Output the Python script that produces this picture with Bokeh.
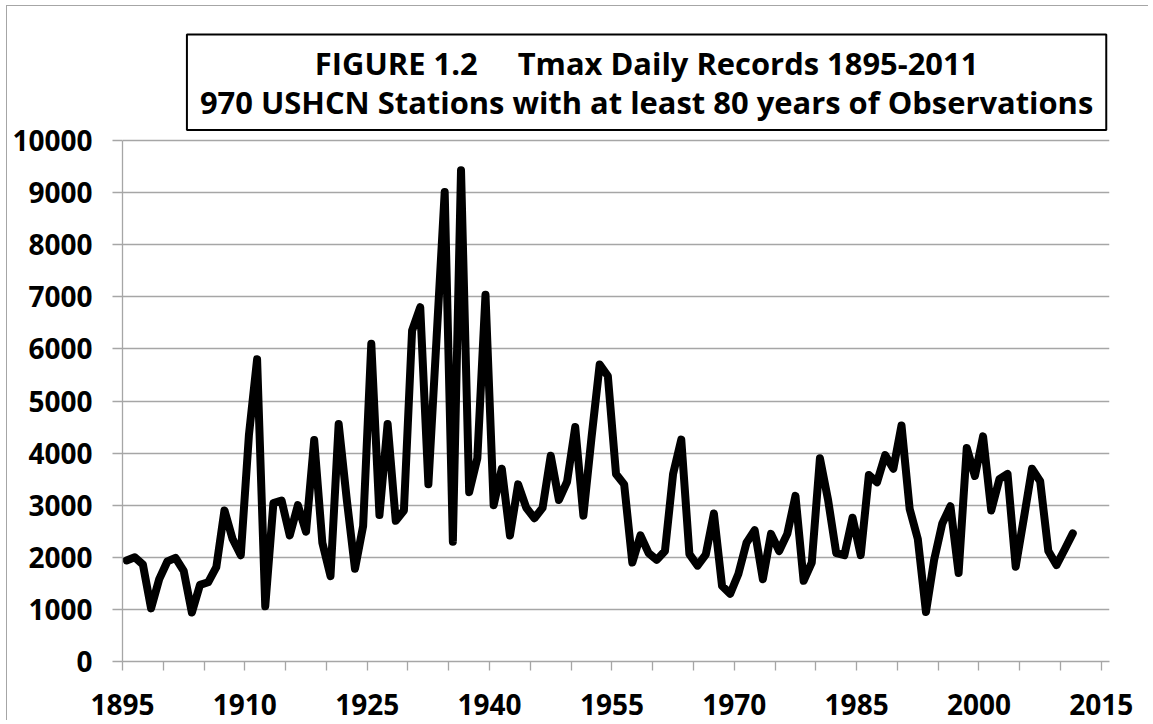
from bokeh.plotting import figure
from bokeh.models import Range1d, FixedTicker, Label
from bokeh.embed import file_html
from bokeh.resources import INLINE

# ---- data ----
years = list(range(1895, 2012))
records = [
    1940, 2000, 1860, 1020, 1580, 1920, 1990, 1740, 940, 1470,   # 1895-1904
    1520, 1810, 2900, 2350, 2040, 4350, 5800, 1060, 3040, 3090,  # 1905-1914
    2420, 3000, 2490, 4250, 2280, 1640, 4560, 3100, 1780, 2600,  # 1915-1924
    6100, 2810, 4560, 2700, 2900, 6350, 6800, 3400, 6200, 9010,  # 1925-1934
    2300, 9430, 3250, 3900, 7040, 3000, 3700, 2420, 3400, 2950,  # 1935-1944
    2750, 2950, 3950, 3100, 3450, 4500, 2800, 4300, 5700, 5480,  # 1945-1954
    3600, 3400, 1900, 2420, 2080, 1950, 2120, 3600, 4260, 2060,  # 1955-1964
    1840, 2050, 2840, 1450, 1300, 1680, 2280, 2520, 1580, 2450,  # 1965-1974
    2120, 2450, 3180, 1550, 1900, 3900, 3100, 2080, 2040, 2760,  # 1975-1984
    2040, 3580, 3440, 3960, 3700, 4530, 2930, 2350, 950, 1950,   # 1985-1994
    2650, 2980, 1700, 4100, 3560, 4320, 2900, 3500, 3600, 1820,  # 1995-2004
    2750, 3700, 3460, 2120, 1850, 2150, 2460,                    # 2005-2011
]
y_ticks = list(range(0, 10001, 1000))
x_tick_labels = ["1895", "1910", "1925", "1940", "1955", "1970", "1985", "2000", "2015"]
title_lines = [
    "FIGURE 1.2 \u00a0\u00a0\u00a0\u00a0Tmax Daily Records 1895-2011",
    "970 USHCN Stations with at least 80 years of Observations",
]

GRID = "#a6a6a6"
FONT = "Open Sans"
Y_MAX = y_ticks[-1]
FRAME_H = 655          # frame reaches the top of the canvas so the title box fits inside
PLOT_H = 521           # pixel height of the 0..10000 value span

p = figure(
    frame_width=987, frame_height=FRAME_H,
    min_border_left=115, min_border_right=40,
    min_border_top=0, min_border_bottom=60,
    x_range=Range1d(years[0] - 0.5, 2015.5),
    y_range=Range1d(0, Y_MAX * FRAME_H / PLOT_H),
    output_backend="svg", toolbar_location=None,
    margin=(6, 0, 0, 7),
)
p.outline_line_color = None
p.background_fill_color = "white"
p.border_fill_color = "white"

# category boundaries every 5 years (Excel "between tick marks" axis)
boundaries = [years[0] - 0.5 + 5 * k for k in range(25)]
overrides = {b: "" for b in boundaries}
for lbl in x_tick_labels:
    overrides[float(lbl) - 0.5] = lbl

xa = p.xaxis[0]
xa.ticker = FixedTicker(ticks=boundaries, minor_ticks=[])
xa.major_label_overrides = overrides
xa.major_tick_out = 9
xa.major_tick_in = 0
xa.major_label_standoff = 23

ya = p.yaxis[0]
ya.ticker = FixedTicker(ticks=y_ticks, minor_ticks=[])
ya.bounds = (0, Y_MAX)
ya.major_tick_out = 10
ya.major_tick_in = 0
ya.major_label_standoff = 20

for ax in (xa, ya):
    ax.axis_line_color = GRID
    ax.axis_line_width = 1.3
    ax.major_tick_line_color = GRID
    ax.major_tick_line_width = 1.3
    ax.minor_tick_line_color = None
    ax.major_label_text_font = FONT
    ax.major_label_text_font_style = "bold"
    ax.major_label_text_font_size = "28px"
    ax.major_label_text_color = "black"

p.xgrid.visible = False
p.ygrid.ticker = FixedTicker(ticks=y_ticks)
p.ygrid.grid_line_color = GRID
p.ygrid.grid_line_width = 1.3

p.line(years, records, line_color="black", line_width=8,
       line_join="round", line_cap="round")

title = Label(
    x=1958.75, y=11117, x_units="data", y_units="data",
    text="\n".join(title_lines),
    text_align="center", text_baseline="middle",
    text_font=FONT, text_font_style="bold", text_font_size="30.9px",
    text_color="black", text_line_height=0.94,
    background_fill_color="white",
    border_line_color="black", border_line_width=2,
    padding=(13, 7),
)
p.add_layout(title)

p.styles = {"box-shadow": "-1px -1px 0 0 #a6a6a6"}

open("out.html", "w").write(file_html(p, INLINE))
